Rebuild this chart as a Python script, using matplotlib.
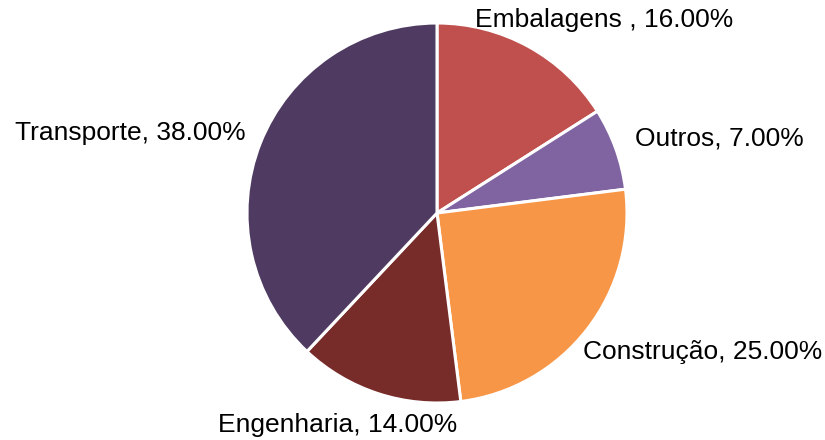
import numpy as np
import matplotlib
matplotlib.use("Agg")
import matplotlib.pyplot as plt

plt.rcParams['font.family'] = ['Liberation Sans', 'DejaVu Sans']

categories = ["Embalagens ", "Outros", "Construção", "Engenharia", "Transporte"]
shares = [16.0, 7.0, 25.0, 14.0, 38.0]
colors = ["#C0504D", "#8064A2", "#F79646", "#772C2A", "#4F3B62"]

labels = [f"{c}, {v:.2f}%" for c, v in zip(categories, shares)]

fig = plt.figure(figsize=(8.25, 4.4), dpi=100)
ax = fig.add_axes([247 / 825, 37 / 440, 380 / 825, 380 / 440])

wedges, texts = ax.pie(shares, labels=labels, colors=colors, startangle=90,
                       counterclock=False, labeldistance=1.15,
                       wedgeprops=dict(edgecolor="white", linewidth=2.2),
                       textprops=dict(fontsize=19, color="black"))

# move labels roughly where the original chart puts them
nudges = [(-0.354, 0.008, "left"), (-0.04, 0.0, "left"), (-0.14, -0.025, "left"),
          (-0.17, -0.02, "center"), (0.06, 0.0, "right")]
for t, (dx, dy, ha) in zip(texts, nudges):
    x, y = t.get_position()
    t.set_position((x + dx, y + dy))
    t.set_ha(ha)
    t.set_va("center")

ax.set_xlim(-1, 1)
ax.set_ylim(-1, 1)
ax.set_aspect("equal")
ax.axis("off")

fig.savefig("out.png", dpi=100)
